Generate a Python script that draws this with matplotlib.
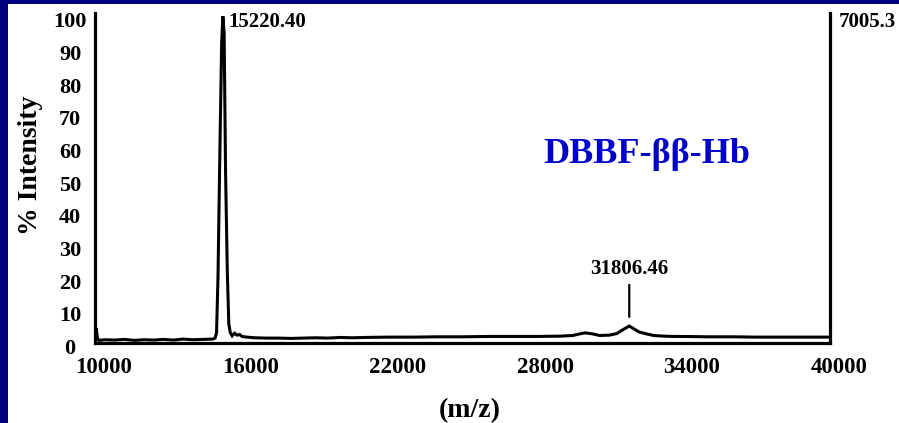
import matplotlib
matplotlib.use("Agg")
import matplotlib.pyplot as plt
from matplotlib.transforms import ScaledTranslation
from matplotlib.patches import Rectangle

# Mass spectrum of DBBF cross-linked haemoglobin
mz = [10000, 10050, 10100, 10150, 10400, 10800, 11200, 11600, 12000, 12400,
      12800, 13200, 13600, 14000, 14400, 14800, 14900, 14960, 15020, 15100,
      15170, 15220, 15270, 15330, 15400, 15460, 15520, 15600, 15700, 15800,
      15900, 16000, 16200, 16500, 17000, 17500, 18000, 18500, 19000, 19500,
      20000, 20500, 21000, 22000, 23000, 24000, 25000, 26000, 27000, 28000,
      29000, 29500, 29800, 30000, 30300, 30600, 31000, 31300, 31600, 31806,
      32000, 32200, 32500, 32800, 33200, 33600, 34000, 35000, 36000, 37000,
      38000, 39000, 40000]
intensity = [1.0, 4.5, 1.5, 0.8, 1.0, 0.9, 1.1, 0.8, 1.0, 0.9,
             1.1, 0.9, 1.2, 1.0, 1.1, 1.2, 1.5, 3.0, 20.0, 60.0,
             92.0, 100.0, 95.0, 52.0, 22.0, 6.0, 3.2, 2.2, 3.0, 2.4,
             2.6, 2.0, 1.8, 1.6, 1.5, 1.5, 1.4, 1.5, 1.6, 1.5,
             1.7, 1.6, 1.7, 1.8, 1.8, 1.9, 1.9, 2.0, 2.0, 2.0,
             2.1, 2.3, 2.8, 3.1, 2.8, 2.3, 2.4, 2.9, 4.3, 5.2,
             4.3, 3.4, 2.8, 2.3, 2.1, 2.0, 2.0, 1.9, 1.9, 1.8,
             1.8, 1.8, 1.8]

x_ticks = [10000, 16000, 22000, 28000, 34000, 40000]
y_ticks = [0, 10, 20, 30, 40, 50, 60, 70, 80, 90, 100]
peak_labels = [(15220.40, "15220.40"), (31806.46, "31806.46")]
max_counts = "7005.3"
sample_name = "DBBF-\u03b2\u03b2-Hb"

navy = "#00007f"
serif = ["Liberation Serif", "DejaVu Serif"]

fig = plt.figure(figsize=(8.99, 4.23), dpi=100, facecolor=navy)
W, H = 899, 423
# white panel inside the navy frame
fig.patches.append(Rectangle((8 / W, 0), 1 - 8 / W, 1 - 4 / H,
                             transform=fig.transFigure, facecolor="white",
                             edgecolor="none", zorder=-10))

ax = fig.add_axes([95 / W, 80 / H, 735 / W, 330 / H])
ax.set_facecolor("white")
ax.plot(mz, intensity, color="black", lw=2.2, solid_joinstyle="miter")
ax.set_xlim(10000, 40000)
ax.set_ylim(0, 101)

ax.spines["top"].set_visible(False)
for side in ("left", "right", "bottom"):
    ax.spines[side].set_linewidth(2.3)
    ax.spines[side].set_color("black")

ax.set_xticks(x_ticks)
ax.set_xticklabels([str(v) for v in x_ticks])
ax.set_yticks(y_ticks)
ax.set_yticklabels([str(v) for v in y_ticks])
ax.tick_params(axis="both", length=0)
ax.tick_params(axis="x", pad=10)
ax.tick_params(axis="y", pad=18)

for lab in ax.get_xticklabels():
    lab.set_fontfamily(serif)
    lab.set_fontweight("bold")
    lab.set_fontsize(16.5)
    lab.set_transform(lab.get_transform() +
                      ScaledTranslation(9 / 100, 0, fig.dpi_scale_trans))
for lab in ax.get_yticklabels():
    lab.set_fontfamily(serif)
    lab.set_fontweight("bold")
    lab.set_fontsize(16)
    lab.set_horizontalalignment("center")
    lab.set_transform(lab.get_transform() +
                      ScaledTranslation(0, -3.5 / 100, fig.dpi_scale_trans))

ax.set_ylabel("% Intensity", fontfamily=serif, fontweight="bold", fontsize=20)
ax.yaxis.set_label_coords(-0.071, 0.539)
ax.set_xlabel("(m/z)", fontfamily=serif, fontweight="bold", fontsize=20)
ax.xaxis.set_label_coords(0.510, -0.168)

# main peak label at the top, beside the peak
ax.annotate(peak_labels[0][1], xy=(peak_labels[0][0], 1.0),
            xycoords=("data", "axes fraction"), xytext=(4, 1),
            textcoords="offset points", ha="left", va="top",
            fontfamily=serif, fontweight="bold", fontsize=15)

# secondary peak label with leader line
ax.annotate(peak_labels[1][1], xy=(peak_labels[1][0], 8.0),
            xytext=(peak_labels[1][0], 19.5), ha="center", va="bottom",
            fontfamily=serif, fontweight="bold", fontsize=15,
            arrowprops=dict(arrowstyle="-", color="black", lw=1.6,
                            shrinkA=2, shrinkB=0))

# absolute intensity of the base peak
ax.annotate(max_counts, xy=(1.0, 1.0), xycoords="axes fraction",
            xytext=(6, 1), textcoords="offset points", ha="left", va="top",
            fontfamily=serif, fontweight="bold", fontsize=15,
            annotation_clip=False)

ax.text(0.751, 0.545, sample_name, transform=ax.transAxes, ha="center",
        va="baseline", color="#0000c8", fontfamily=serif, fontweight="bold",
        fontsize=26)

fig.savefig("out.png", dpi=100, facecolor=navy)
